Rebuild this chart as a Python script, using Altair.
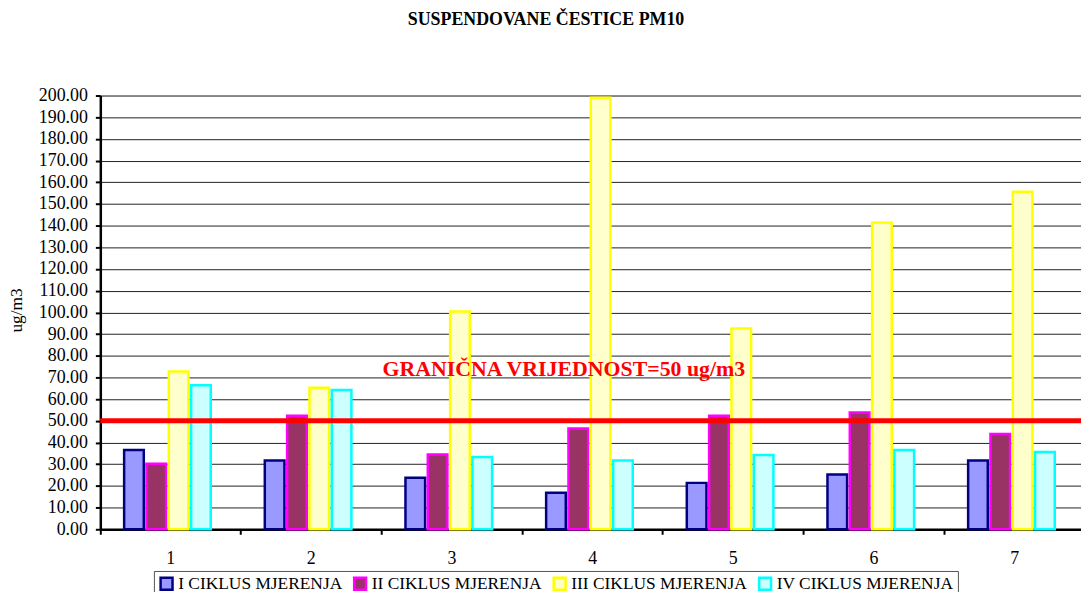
import altair as alt
import pandas as pd

# ---- data ----
cats = ["1", "2", "3", "4", "5", "6", "7"]
series = ["I CIKLUS MJERENJA", "II CIKLUS MJERENJA", "III CIKLUS MJERENJA", "IV CIKLUS MJERENJA"]
c1 = [36.6, 31.7, 23.8, 16.9, 21.4, 25.3, 31.7]
c2 = [30.2, 52.3, 34.5, 46.5, 52.3, 53.9, 43.9]
c3 = [72.8, 65.3, 100.4, 199.0, 92.6, 141.4, 155.6]
c4 = [66.4, 64.2, 33.3, 31.7, 34.3, 36.6, 35.6]
limit = [50]
limit_label = ["GRANIČNA VRIJEDNOST=50 ug/m3"]
chart_title = ["SUSPENDOVANE ČESTICE PM10"]
y_ticks = list(range(0, 201, 10))

fills = ["#9999FF", "#993366", "#FFFFCC", "#CCFFFF"]
strokes = ["#000080", "#FF00FF", "#FFFF00", "#00FFFF"]

rows = []
for s, vals in zip(series, [c1, c2, c3, c4]):
    for c, v in zip(cats, vals):
        rows.append({"cat": c, "series": s, "value": v})
df = pd.DataFrame(rows)

W, H = 988, 437
SERIF = "Liberation Serif"

yscale = alt.Scale(domain=[0, 200], nice=False, zero=True)
yaxis = alt.Axis(title="ug/m3", values=y_ticks, format=".2f",
                 tickSize=5, tickWidth=2, tickColor="black",
                 domainColor="black", domainWidth=2.5,
                 labelFont=SERIF, labelFontSize=18, labelColor="black", labelPadding=8,
                 grid=True, gridColor="#222222", gridWidth=1,
                 titleFont=SERIF, titleFontSize=17.5, titleFontWeight="normal",
                 titleColor="black", titleAngle=270, titleX=-75, titleY=216,
                 titleAlign="center", titleBaseline="bottom")

# the category axis runs a little past the right edge of the picture, as in the reference
x_enc = alt.X(
    "cat:N", sort=cats,
    scale=alt.Scale(domain=cats, paddingInner=0, paddingOuter=0, range=[0, 992]),
    axis=alt.Axis(title=None, labelAngle=0, bandPosition=0,
                  tickSize=5, tickWidth=2, tickColor="black",
                  domainColor="black", domainWidth=2.5,
                  labelFont=SERIF, labelFontSize=18, labelColor="black",
                  labelPadding=15, grid=False),
)

legend = alt.Legend(
    title=None, orient="none", legendX=54, legendY=479, direction="horizontal",
    columns=4, symbolType="square", symbolSize=144, symbolStrokeWidth=2.5,
    labelFont=SERIF, labelFontSize=17.5, labelColor="black", labelOffset=3, labelLimit=0,
    columnPadding=6, padding=4, strokeColor="#555555",
)

# an empty fifth slot keeps the group of four bars off-centre, as in the reference
offset_domain = series + [" "]

bars = alt.Chart(df).mark_bar(strokeWidth=2.5, width=alt.RelativeBandSize(0.88)).encode(
    x=x_enc,
    xOffset=alt.XOffset("series:N", sort=series,
                        scale=alt.Scale(domain=offset_domain, paddingInner=0, paddingOuter=0.65, align=0.53)),
    y=alt.Y("value:Q", scale=yscale, axis=yaxis),
    fill=alt.Fill("series:N", sort=series, scale=alt.Scale(domain=series, range=fills), legend=legend),
    stroke=alt.Stroke("series:N", sort=series, scale=alt.Scale(domain=series, range=strokes), legend=legend),
)

rule = alt.Chart(pd.DataFrame({"limit": limit})).mark_rule(color="#FF0000", strokeWidth=5).encode(
    y=alt.Y("limit:Q", scale=yscale, axis=yaxis)
)

txt = alt.Chart(pd.DataFrame({"limit": limit, "label": limit_label})).mark_text(
    font=SERIF, fontSize=22, fontWeight="bold", color="#FF0000",
    baseline="alphabetic", align="center", dy=-45,
).encode(
    y=alt.Y("limit:Q", scale=yscale, axis=yaxis),
    x=alt.value(467),
    text="label:N",
)

ttl = alt.Chart(pd.DataFrame({"t": chart_title})).mark_text(
    font=SERIF, fontSize=18, fontWeight="bold", color="black",
    baseline="alphabetic", align="center",
).encode(x=alt.value(449), y=alt.value(-71), text="t:N")

chart = alt.layer(bars, rule, txt, ttl).properties(
    width=W, height=H,
    autosize=alt.AutoSizeParams(type="none"),
    padding={"left": 93, "top": 86, "right": 0, "bottom": 61},
).configure_view(stroke=None).configure(background="white")

chart.save("out.html", embed_options={"renderer": "svg", "actions": False})
